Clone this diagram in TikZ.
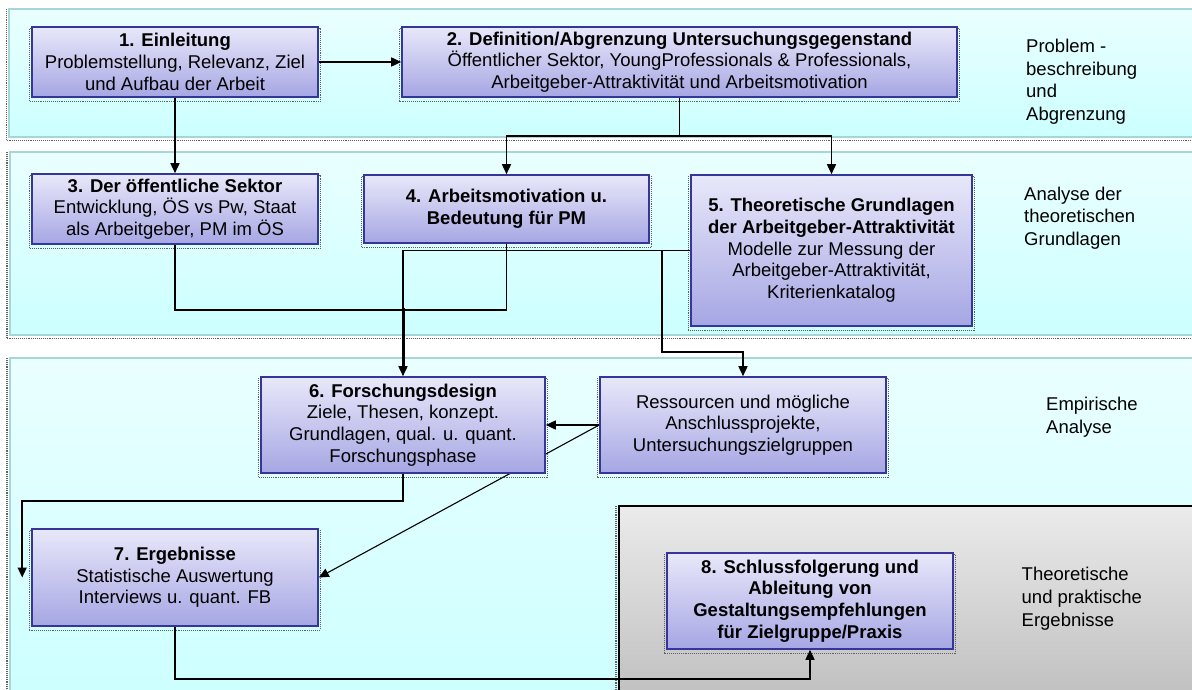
\documentclass[tikz,border=0pt]{standalone}
\usepackage{fontspec}
\setmainfont{Liberation Sans}
\usetikzlibrary{arrows.meta,backgrounds}
\pgfdeclarelayer{wires}
\pgfsetlayers{background,wires,main}
\definecolor{bandtop}{HTML}{EAFFFF}
\definecolor{bandbot}{HTML}{CCFFFF}
\definecolor{bandline}{HTML}{A8D6D6}
\definecolor{boxtop}{HTML}{E8E8FA}
\definecolor{boxbot}{HTML}{A6A6E4}
\definecolor{boxline}{HTML}{35359A}
\definecolor{graytop}{HTML}{EBEBEB}
\definecolor{graybot}{HTML}{BEBEBE}
\definecolor{dotcol}{HTML}{606060}
\begin{document}
\begin{tikzpicture}[x=1pt,y=-1pt,
  stepbox/.style={draw=boxline,line width=1.6pt,top color=boxtop,bottom color=boxbot,align=center,inner sep=0pt,font=\fontsize{18.5}{21.7}\selectfont},
  boldbox/.style={stepbox,font=\fontsize{18.5}{21.7}\selectfont\bfseries},
  band/.style={draw=bandline,line width=1.5pt,top color=bandtop,bottom color=bandbot},
  graybox/.style={draw=black,line width=1.5pt,top color=graytop,bottom color=graybot},
  shadowdot/.style={dotcol,densely dotted,line width=1.1pt},
  wire/.style={line width=1.6pt,black},
  arr/.style={wire,-{Triangle[length=10pt,width=9pt]}},
  lbl/.style={align=left,anchor=base west,inner sep=0pt,font=\fontsize{18.5}{22.7}\selectfont}]
\useasboundingbox (0,0) rectangle (1192,690);

% boxes
\node[stepbox,minimum width=286pt,minimum height=70pt] (b1) at (175,62)
  {\textbf{1. Einleitung}\\Problemstellung, Relevanz, Ziel\\und Aufbau der Arbeit};
\node[stepbox,minimum width=555pt,minimum height=70pt] (b2) at (679.5,62)
  {\textbf{2. Definition/Abgrenzung Untersuchungsgegenstand}\\Öffentlicher Sektor, YoungProfessionals \& Professionals,\\Arbeitgeber-Attraktivität und Arbeitsmotivation};
\node[stepbox,minimum width=286pt,minimum height=70pt] (b3) at (175,209)
  {\textbf{3. Der öffentliche Sektor}\\Entwicklung, ÖS vs Pw, Staat\\als Arbeitgeber, PM im ÖS};
\node[stepbox,minimum width=285pt,minimum height=68pt] (b4) at (506.5,209)
  {\textbf{4. Arbeitsmotivation u.}\\\textbf{Bedeutung für PM}};
\node[stepbox,minimum width=281pt,minimum height=151pt] (b5) at (831.5,250.5)
  {\textbf{5. Theoretische Grundlagen}\\\textbf{der Arbeitgeber-Attraktivität}\\Modelle zur Messung der\\Arbeitgeber-Attraktivität,\\Kriterienkatalog};
\node[stepbox,minimum width=284pt,minimum height=96pt] (b6) at (403,425)
  {\textbf{6. Forschungsdesign}\\Ziele, Thesen, konzept.\\Grundlagen, qual. u. quant.\\Forschungsphase};
\node[stepbox,minimum width=286pt,minimum height=96pt] (bR) at (743,425)
  {Ressourcen und mögliche\\Anschlussprojekte,\\Untersuchungszielgruppen};
\node[stepbox,minimum width=286pt,minimum height=97pt] (b7) at (175,577.5)
  {\textbf{7. Ergebnisse}\\Statistische Auswertung\\Interviews u. quant. FB};
\node[boldbox,minimum width=286pt,minimum height=96pt] (b8) at (810,601)
  {8. Schlussfolgerung und\\Ableitung von\\Gestaltungsempfehlungen\\für Zielgruppe/Praxis};

% side labels (anchor = baseline of last line)
\node[lbl] (t1) at (1026,120.5) {Problem -\\beschreibung\\und\\Abgrenzung};
\node[lbl] (t2) at (1024,245.5) {Analyse der\\theoretischen\\Grundlagen};
\node[lbl] (t3) at (1046,433.3) {Empirische\\Analyse};
\node[lbl] (t4) at (1021.5,626) {Theoretische\\und praktische\\Ergebnisse};

\begin{pgfonlayer}{background}
  \draw[band] (9,9) rectangle (1205,137);
  \draw[shadowdot] (6.5,9) -- (6.5,140.5) -- (1205,140.5);
  \draw[band] (10,152) rectangle (1205,335);
  \draw[shadowdot] (7,152) -- (7,338.5) -- (1205,338.5);
  \draw[band] (10,358) rectangle (1205,705);
  \draw[shadowdot] (7,358) -- (7,705);
  \draw[graybox] (619,506) rectangle (1205,705);
  \draw[shadowdot] (616,506) -- (616,705);
  \foreach \n in {b1,b2,b3,b4,b5,b6,bR,b7,b8}
    \draw[shadowdot] ([xshift=-2pt,yshift=-3.5pt]\n.south west) rectangle ([xshift=1.5pt,yshift=-2pt]\n.north east);
\end{pgfonlayer}

\begin{pgfonlayer}{wires}
  \draw[arr] (b1.east) -- (b2.west);
  \draw[arr] (b1.south) -- (b3.north);
  \path (b2.south) ++(0,38) coordinate (j1);
  \draw[wire] (b2.south) -- (j1);
  \draw[arr] (j1) -| (b4.north);
  \draw[arr] (j1) -| (b5.north);
  \draw[wire] (b3.south) -- ++(0,65) -| (b4.south);
  \draw[arr] (b5.west) -| (b6.north);
  \path (b6.north) ++(0,-68) coordinate (j3);
  \draw[line width=3pt] (j3) -- ++(0,58);
  \coordinate (j2) at (662,250.5);
  \draw[arr] (j2) -- ++(0,101.5) -| (bR.north);
  \draw[arr] (bR.west) -- (b6.east);
  \draw[arr,line width=1.1pt] (bR.west) -- (b7.east);
  \draw[arr] (b6.south) -- ++(0,27) -| ([xshift=-9pt]b7.west);
  \draw[arr] (b7.south) -- ++(0,52) -| (b8.south);
\end{pgfonlayer}
\end{tikzpicture}
\end{document}
